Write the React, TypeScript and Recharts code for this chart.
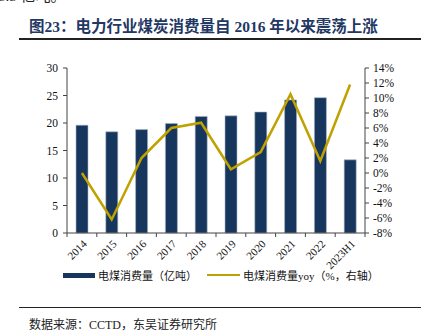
import React from "react";
import { Bar, ComposedChart, Line, XAxis, YAxis } from "recharts";

const years = ["2014", "2015", "2016", "2017", "2018", "2019", "2020", "2021", "2022", "2023H1"];
const coalUse = [19.6, 18.4, 18.8, 19.9, 21.2, 21.3, 22.0, 24.2, 24.6, 13.3];
const coalYoy = [0.0, -6.2, 2.0, 6.0, 6.7, 0.5, 2.8, 10.5, 1.6, 11.8];
const leftTicks = [0, 5, 10, 15, 20, 25, 30];
const rightTicks = [-8, -6, -4, -2, 0, 2, 4, 6, 8, 10, 12, 14];

const data = years.map((year, i) => ({ year, use: coalUse[i], yoy: coalYoy[i] }));

const SERIF = "'Liberation Serif', 'Noto Sans CJK SC', serif";
const NAVY = "#17365d";
const GOLD = "#bfa100";
const AXIS = "#444";

const CHART_W = 426;
const MARGIN = { top: 68, right: 16, left: 27, bottom: 17 };
const LEFT_W = 40;
const RIGHT_W = 45;
const PLOT_W = CHART_W - MARGIN.left - MARGIN.right - LEFT_W - RIGHT_W;
const STEP = PLOT_W / years.length;

// excel style: tick marks sit between categories, labels turned 45 degrees
function YearTick(props: any) {
  const { x, y, payload, index } = props;
  const last = index === years.length - 1;
  return (
    <g>
      <line x1={x - STEP / 2} x2={x - STEP / 2} y1={y - 4} y2={y} stroke={AXIS} />
      {last && <line x1={x + STEP / 2} x2={x + STEP / 2} y1={y - 4} y2={y} stroke={AXIS} />}
      <text
        x={x + 3}
        y={y + 5}
        dy="0.35em"
        textAnchor="end"
        fontSize={11}
        fontFamily={SERIF}
        fill="#111"
        transform={`rotate(-45, ${x + 3}, ${y + 5})`}
      >
        {payload.value}
      </text>
    </g>
  );
}

export default function App() {
  const tickStyle = { fontSize: 11.5, fontFamily: SERIF, fill: "#111" };
  return (
    <div style={{ position: "absolute", left: 0, top: 0, width: 426, height: 335, background: "#fff", overflow: "hidden" }}>
      {/* tail of the previous paragraph, cut by the crop */}
      <div style={{ position: "absolute", left: -2, top: -16, fontSize: 15, fontFamily: SERIF, color: "#222", whiteSpace: "nowrap" }}>
        5.5 亿吨。
      </div>
      <div
        style={{
          position: "absolute",
          left: 29,
          top: 14,
          fontSize: 15.5,
          fontWeight: "bold",
          fontFamily: SERIF,
          color: "#1f3864",
          whiteSpace: "nowrap",
        }}
      >
        图23：电力行业煤炭消费量自 2016 年以来震荡上涨
      </div>
      <div style={{ position: "absolute", left: 19, top: 38, width: 402, height: 2, background: "#222" }} />

      <div style={{ position: "absolute", left: 0, top: 0 }}>
        <ComposedChart width={CHART_W} height={290} data={data} margin={MARGIN}>
          <XAxis
            dataKey="year"
            xAxisId="x"
            interval={0}
            height={40}
            tickLine={false}
            tickSize={4}
            tickMargin={0}
            axisLine={{ stroke: AXIS }}
            tick={<YearTick />}
          />
          <YAxis
            yAxisId="left"
            width={LEFT_W}
            domain={[0, 30]}
            ticks={leftTicks}
            interval={0}
            tickSize={4}
            tickMargin={5}
            axisLine={{ stroke: AXIS }}
            tickLine={{ stroke: AXIS }}
            tick={tickStyle}
          />
          <YAxis
            yAxisId="right"
            orientation="right"
            width={RIGHT_W}
            domain={[-8, 14]}
            ticks={rightTicks}
            interval={0}
            tickSize={4}
            tickMargin={4}
            axisLine={{ stroke: AXIS }}
            tickLine={{ stroke: AXIS }}
            tick={tickStyle}
            tickFormatter={(v) => `${v}%`}
          />
          <Bar
            dataKey="use"
            xAxisId="x"
            yAxisId="left"
            barSize={12}
            fill={NAVY}
            stroke="#aab4c4"
            strokeWidth={0.6}
            isAnimationActive={false}
          />
          <Line
            dataKey="yoy"
            xAxisId="x"
            yAxisId="right"
            type="linear"
            stroke={GOLD}
            strokeWidth={2.5}
            dot={false}
            activeDot={false}
            isAnimationActive={false}
          />
        </ComposedChart>
      </div>

      <div style={{ position: "absolute", left: 63, top: 273, width: 32, height: 5, background: NAVY }} />
      <div style={{ position: "absolute", left: 98, top: 267, fontSize: 11, fontFamily: SERIF, color: "#111", whiteSpace: "nowrap" }}>
        电煤消费量（亿吨）
      </div>
      <div style={{ position: "absolute", left: 207, top: 274, width: 33, height: 2, background: GOLD }} />
      <div style={{ position: "absolute", left: 243, top: 267, fontSize: 11, fontFamily: SERIF, color: "#111", whiteSpace: "nowrap" }}>
        电煤消费量yoy（%，右轴）
      </div>

      <div style={{ position: "absolute", left: 19, top: 307, width: 402, height: 1, background: "#222" }} />
      <div style={{ position: "absolute", left: 29, top: 315, fontSize: 12, fontFamily: SERIF, color: "#222", whiteSpace: "nowrap" }}>
        数据来源：CCTD，东吴证券研究所
      </div>
    </div>
  );
}
